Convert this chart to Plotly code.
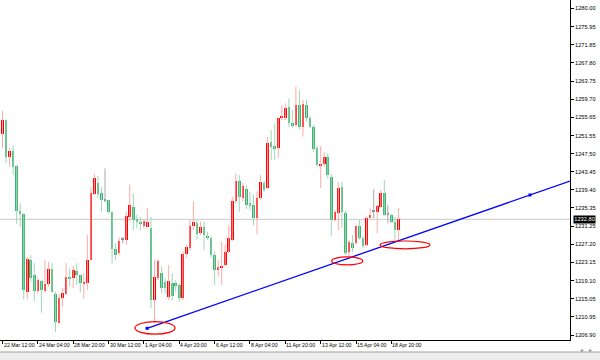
import plotly.graph_objects as go

# ---- data (4H candles) ----
opens = [1251.8,1255.0,1246.8,1248.2,1244.8,1234.7,1234.0,1216.6,1223.7,1220.4,
         1216.8,1219.1,1216.8,1218.4,1221.6,1216.2,1209.7,1215.3,1216.2,1220.0,
         1219.6,1221.3,1220.3,1218.3,1218.6,1223.7,1238.5,1240.9,1238.8,1237.1,
         1237.1,1234.5,1226.1,1225.2,1228.2,1228.2,1233.4,1235.6,1232.8,1232.3,
         1231.4,1231.1,1230.9,1214.7,1219.6,1220.7,1218.8,1215.5,1218.6,1218.6,
         1218.1,1215.3,1225.0,1226.3,1231.3,1231.9,1229.7,1231.1,1229.1,1228.6,
         1224.8,1221.5,1222.0,1222.6,1225.6,1228.2,1236.8,1241.4,1237.6,1239.6,
         1236.4,1236.0,1233.2,1237.6,1240.9,1239.8,1250.2,1249.3,1248.7,1255.6,
         1255.4,1257.9,1254.3,1253.9,1258.4,1253.5,1258.4,1255.4,1253.5,1248.7,
         1244.9,1245.2,1246.8,1242.3,1232.7,1234.3,1240.1,1234.2,1225.6,1227.4,
         1227.4,1231.2,1228.7,1227.1,1233.2,1234.5,1234.5,1235.6,1238.6,1233.9,
         1233.8,1232.3,1230.4]
highs = [1257.1,1255.2,1248.8,1249.4,1244.9,1236.4,1234.2,1224.4,1224.8,1223.0,
         1219.8,1219.3,1223.7,1223.3,1223.0,1216.6,1215.9,1217.4,1223.0,1221.8,
         1222.4,1223.0,1220.5,1220.7,1229.3,1240.0,1243.0,1242.5,1240.0,1244.2,
         1237.2,1234.6,1227.4,1228.8,1228.9,1234.5,1240.5,1238.6,1233.8,1233.4,
         1232.7,1235.3,1233.4,1223.7,1223.9,1222.2,1219.6,1222.6,1220.7,1219.2,
         1218.5,1225.6,1227.1,1232.7,1236.8,1232.7,1232.3,1232.3,1230.0,1229.0,
         1225.6,1223.7,1227.8,1227.1,1231.5,1237.9,1243.1,1242.7,1240.9,1240.5,
         1239.0,1238.3,1239.0,1242.7,1241.4,1251.2,1252.8,1254.3,1255.8,1258.4,
         1258.8,1259.9,1257.3,1262.5,1261.8,1259.5,1259.5,1256.0,1253.9,1249.4,
         1249.2,1247.9,1247.6,1243.0,1234.8,1241.2,1241.2,1234.7,1228.2,1229.3,
         1231.5,1232.7,1229.0,1233.4,1235.3,1239.5,1236.0,1239.4,1241.6,1236.0,
         1234.0,1233.4,1235.3]
lows = [1248.7,1245.3,1244.6,1242.7,1231.8,1231.1,1214.9,1214.9,1218.8,1214.5,
        1216.2,1211.9,1216.4,1217.7,1216.4,1207.6,1209.5,1213.2,1215.9,1217.7,
        1217.4,1218.1,1216.4,1215.0,1217.0,1223.5,1238.3,1237.5,1234.5,1236.7,
        1234.0,1223.0,1223.7,1224.8,1227.4,1227.1,1232.3,1230.4,1230.8,1230.4,
        1230.7,1231.1,1212.9,1209.5,1219.2,1216.2,1216.2,1214.7,1214.7,1216.6,
        1214.4,1214.7,1224.2,1225.9,1230.4,1228.2,1229.3,1225.9,1228.2,1224.2,
        1218.1,1220.0,1218.1,1222.4,1225.3,1227.9,1236.5,1234.5,1236.8,1235.1,
        1234.9,1231.4,1229.5,1237.3,1238.9,1239.5,1246.1,1246.1,1246.5,1255.0,
        1255.0,1253.5,1253.2,1253.5,1253.0,1251.3,1254.7,1253.2,1247.9,1244.6,
        1239.8,1244.5,1242.0,1229.0,1232.3,1230.4,1230.8,1224.8,1224.4,1225.4,
        1227.1,1228.2,1226.3,1226.7,1233.0,1233.0,1229.7,1235.4,1233.6,1231.9,
        1232.0,1227.8,1227.8]
closes = [1255.0,1246.8,1248.2,1244.6,1234.7,1234.1,1217.0,1223.9,1219.7,1216.8,
          1219.2,1217.0,1218.3,1221.7,1216.6,1209.9,1215.3,1216.4,1220.0,1219.6,
          1221.5,1220.3,1218.5,1218.8,1223.7,1238.6,1242.1,1238.5,1237.1,1237.1,
          1234.4,1226.1,1224.8,1227.9,1228.2,1233.5,1235.9,1232.7,1232.3,1231.7,
          1232.4,1232.3,1214.7,1220.0,1223.5,1217.4,1217.4,1219.0,1215.6,1217.9,
          1215.3,1225.0,1226.5,1231.3,1232.1,1229.5,1231.0,1229.3,1228.7,1224.8,
          1221.5,1222.2,1222.4,1225.6,1228.6,1236.9,1241.4,1237.9,1240.3,1235.9,
          1235.8,1233.2,1237.6,1241.1,1239.4,1250.0,1249.1,1248.5,1255.4,1255.8,
          1257.7,1254.3,1253.9,1258.4,1253.5,1258.6,1255.4,1253.5,1248.5,1245.0,
          1245.3,1246.8,1242.7,1232.7,1234.5,1239.8,1234.5,1225.2,1227.7,1226.3,
          1231.2,1228.6,1226.9,1233.0,1233.8,1234.5,1235.8,1238.6,1233.8,1233.9,
          1232.3,1230.4,1232.8]

time_labels = ["22 Mar 12:00", "24 Mar 04:00", "28 Mar 20:00", "30 Mar 12:00",
               "1 Apr 04:00", "4 Apr 20:00", "6 Apr 12:00", "8 Apr 04:00",
               "11 Apr 20:00", "13 Apr 12:00", "15 Apr 04:00", "18 Apr 20:00"]
label_every = 10

price_labels = ["1280.00", "1275.95", "1271.85", "1267.80", "1263.75", "1259.70",
                "1255.65", "1251.55", "1247.50", "1243.45", "1239.40", "1235.35",
                "1231.25", "1227.20", "1223.15", "1219.10", "1215.05", "1210.95",
                "1206.90"]
current_price = 1232.80

# trend line anchors (bar index, price) and highlighted zones
trend_start = (40.9, 1208.4)
trend_end = (149.2, 1238.25)
zones = [(37.5, 48.8, 1207.1, 1209.9),
         (93.1, 101.9, 1222.6, 1224.4),
         (106.8, 120.9, 1226.2, 1227.95)]

# ---- styling ----
UP_BODY, UP_WICK = "#ff0000", "#ffaaaa"
DN_BODY, DN_WICK = "#3cb371", "#9fd8b6"
DJ_BODY, DJ_WICK = "#808080", "#a8a8a8"
FONT = "Liberation Sans"
FS_Y = 5.7
FS_X = 5.2

X_MIN, X_MAX = -0.707, 160.53
Y_MIN, Y_MAX = 1205.79, 1281.9

n = len(opens)
idx = list(range(n))

groups = {"up": [], "dn": [], "dj": []}
for i in idx:
    o, c = opens[i], closes[i]
    k = "dj" if abs(c - o) < 1e-9 else ("up" if c > o else "dn")
    groups[k].append(i)

fig = go.Figure()
style = {"up": (UP_BODY, UP_WICK), "dn": (DN_BODY, DN_WICK), "dj": (DJ_BODY, DJ_WICK)}

# wicks
for k, ids in groups.items():
    wx, wy = [], []
    for i in ids:
        wx += [i, i, None]
        wy += [lows[i], highs[i], None]
    fig.add_trace(go.Scatter(x=wx, y=wy, mode="lines",
                             line=dict(color=style[k][1], width=1),
                             hoverinfo="skip", showlegend=False))
# bodies
for k, ids in groups.items():
    base = [min(opens[i], closes[i]) for i in ids]
    h = [max(abs(closes[i] - opens[i]), 0.22) for i in ids]
    fig.add_trace(go.Bar(x=ids, y=h, base=base, width=0.74,
                         marker=dict(color=style[k][0], line=dict(width=0)),
                         showlegend=False, hoverinfo="skip"))

# trend line extended to right edge
slope = (trend_end[1] - trend_start[1]) / (trend_end[0] - trend_start[0])
y_right = trend_start[1] + slope * (X_MAX - trend_start[0])
shapes = []
shapes.append(dict(type="line", xref="paper", yref="y", x0=0, x1=1,
                   y0=current_price, y1=current_price,
                   line=dict(color="#c8c8c8", width=1), layer="below"))
shapes.append(dict(type="line", xref="x", yref="y", x0=trend_start[0], y0=trend_start[1],
                   x1=X_MAX, y1=y_right, line=dict(color="#0000ff", width=1.3)))
for (xa, xb, ya, yb) in zones:
    shapes.append(dict(type="circle", xref="x", yref="y", x0=xa, x1=xb, y0=ya, y1=yb,
                       line=dict(color="#ff0000", width=1.2)))
# bottom scroll band
shapes.append(dict(type="rect", xref="paper", yref="paper", x0=-0.01, x1=1.06,
                   y0=-0.0353, y1=-0.065, fillcolor="#ececec", line=dict(width=0)))
shapes.append(dict(type="line", xref="paper", yref="paper", x0=-0.01, x1=1.06,
                   y0=-0.0353, y1=-0.0353, line=dict(color="#a0a0a0", width=1)))

fig.add_trace(go.Scatter(x=[trend_start[0], trend_end[0]], y=[trend_start[1], trend_end[1]],
                         mode="markers", marker=dict(symbol="square", size=3, color="#0000ff"),
                         showlegend=False, hoverinfo="skip"))

annotations = []
# price axis labels (left-aligned beside the right axis)
for s in price_labels:
    annotations.append(dict(xref="paper", yref="y", x=1, y=float(s), xanchor="left",
                            yanchor="middle", xshift=4, text=s, showarrow=False,
                            borderpad=0, font=dict(color="#000000", size=FS_Y, family=FONT)))
# time axis labels (to the right of their tick)
for k, s in enumerate(time_labels):
    annotations.append(dict(xref="x", yref="paper", x=k * label_every, y=0, xanchor="left",
                            yanchor="top", xshift=0, yshift=-1, text=s, showarrow=False,
                            borderpad=0, font=dict(color="#000000", size=FS_X, family=FONT)))
annotations += [
    dict(xref="paper", yref="y", x=1, y=current_price, xanchor="left", yanchor="middle",
         xshift=3, text="1232.80", showarrow=False, bgcolor="#000000", borderpad=0.3,
         font=dict(color="#ffffff", size=FS_Y, family=FONT)),
    dict(xref="paper", yref="paper", x=1.026, y=-0.047, text="◂", showarrow=False,
         font=dict(color="#909090", size=6)),
    dict(xref="paper", yref="paper", x=1.042, y=-0.047, text="▸", showarrow=False,
         font=dict(color="#909090", size=6)),
]

fig.update_layout(
    width=600, height=360,
    margin=dict(l=0, r=30, t=0, b=20),
    paper_bgcolor="white", plot_bgcolor="white",
    barmode="overlay", bargap=0,
    shapes=shapes, annotations=annotations,
    showlegend=False,
    xaxis=dict(range=[X_MIN, X_MAX], showgrid=False, zeroline=False,
               showline=True, linecolor="#000000", linewidth=1,
               ticks="outside", ticklen=3, tickcolor="#000000",
               tickvals=[k * label_every for k in range(len(time_labels))],
               showticklabels=False),
    yaxis=dict(range=[Y_MIN, Y_MAX], side="right", showgrid=False, zeroline=False,
               showline=True, linecolor="#000000", linewidth=1,
               ticks="outside", ticklen=3, tickcolor="#000000",
               tickvals=[float(s) for s in price_labels], showticklabels=False),
)

fig.write_html("out.html", config={"displayModeBar": False},
               post_script="document.body.style.margin='0';document.body.style.padding='0';")
